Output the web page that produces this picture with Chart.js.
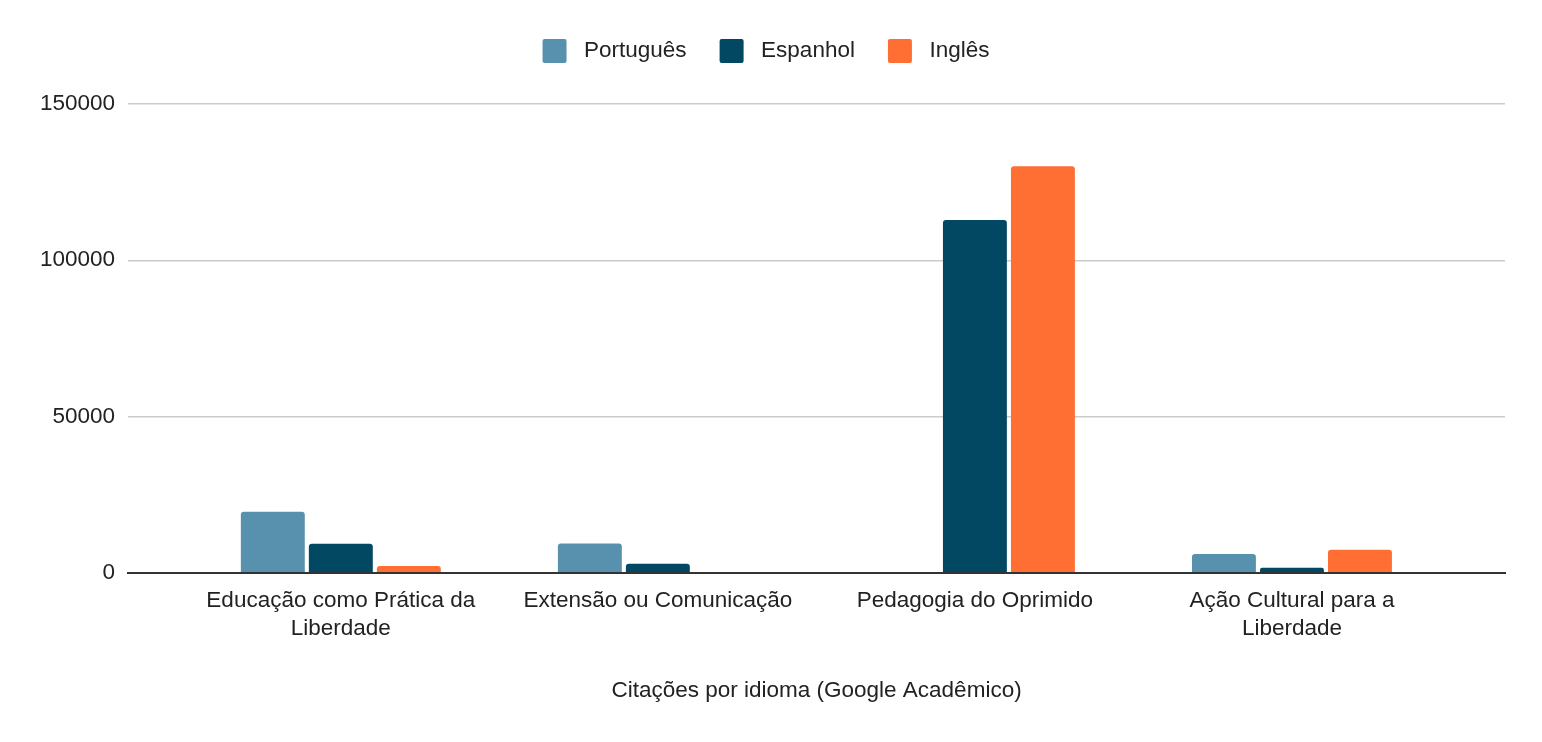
<!DOCTYPE html>
<html>
<head>
<meta charset="utf-8">
<script src="https://cdn.jsdelivr.net/npm/chart.js@4/dist/chart.umd.min.js"></script>
<style>
  html, body { margin: 0; padding: 0; background: #fff; }
  #wrap { width: 1542px; height: 742px; }
</style>
</head>
<body>
<div id="wrap"><canvas id="citacoes_Chart" width="1542" height="742"></canvas></div>
<script>
// dados
const livros = [
  ['Educação como Prática da', 'Liberdade'],
  'Extensão ou Comunicação',
  'Pedagogia do Oprimido',
  ['Ação Cultural para a', 'Liberdade']
];
const portugues = [19500, 9400, 0, 6000];
const espanhol = [9300, 2900, 112900, 1600];
const ingles = [2200, 0, 130100, 7400];
const yTicks = [0, 50000, 100000, 150000];

const fonte = "Arial, 'Liberation Sans', sans-serif";

// espaço extra abaixo da legenda
const legendGap = {
  id: 'legendGap',
  beforeInit(chart) {
    const fit = chart.legend.fit;
    chart.legend.fit = function() {
      fit.bind(chart.legend)();
      this.height += 31;
    };
  }
};

var context = document.getElementById('citacoes_Chart').getContext('2d');
var citacoes_Chart = new Chart(context, {
  type: 'bar',
  data: {
    labels: livros,
    datasets: [
      { label: 'Português', data: portugues, backgroundColor: '#5891ae' },
      { label: 'Espanhol', data: espanhol, backgroundColor: '#024862' },
      { label: 'Inglês', data: ingles, backgroundColor: '#ff6f33' }
    ]
  },
  options: {
    responsive: false,
    animation: false,
    devicePixelRatio: 1,
    categoryPercentage: 0.6435,
    barPercentage: 0.94,
    datasets: { bar: { borderRadius: { topLeft: 3, topRight: 3 }, borderSkipped: 'bottom' } },
    layout: { padding: { left: 27, right: 37, top: 6, bottom: 38 } },
    plugins: {
      legend: {
        position: 'top',
        labels: {
          color: '#222',
          font: { family: fonte, size: 22.5 },
          boxWidth: 24,
          boxHeight: 24,
          padding: 33,
          useBorderRadius: true,
          borderRadius: 2,
          generateLabels: function(chart) {
            // um pouco mais de espaço entre o quadrado e o texto
            const itens = Chart.defaults.plugins.legend.labels.generateLabels(chart);
            itens.forEach(it => { it.text = ' ' + it.text; });
            return itens;
          }
        }
      },
      tooltip: { enabled: false }
    },
    scales: {
      x: {
        offset: false,
        // categorias não ocupam toda a largura do eixo
        afterBuildTicks: function(axis) {
          axis.ticks = livros.map((l, i) => ({ value: i }));
          axis._startValue = -0.671;
          axis._valueRange = 4.343;
        },
        grid: { display: false, drawTicks: false },
        border: { display: true, color: '#333', width: 2 },
        ticks: {
          color: '#222',
          font: { family: fonte, size: 22.5, lineHeight: 1.25 },
          padding: 14,
          maxRotation: 0,
          autoSkip: false
        },
        title: {
          display: true,
          text: 'Citações por idioma (Google Acadêmico)',
          color: '#222',
          font: { family: fonte, size: 22.5 },
          padding: { top: 20, bottom: 0 }
        }
      },
      y: {
        min: 0,
        max: 150000,
        afterBuildTicks: function(axis) { axis.ticks = yTicks.map(v => ({ value: v })); },
        grid: { color: '#cccccc', lineWidth: 1.5, drawTicks: false },
        border: { display: false },
        ticks: {
          color: '#222',
          font: { family: fonte, size: 22.5 },
          padding: 13,
          callback: v => String(v)
        }
      }
    }
  },
  plugins: [legendGap]
});
</script>
</body>
</html>
